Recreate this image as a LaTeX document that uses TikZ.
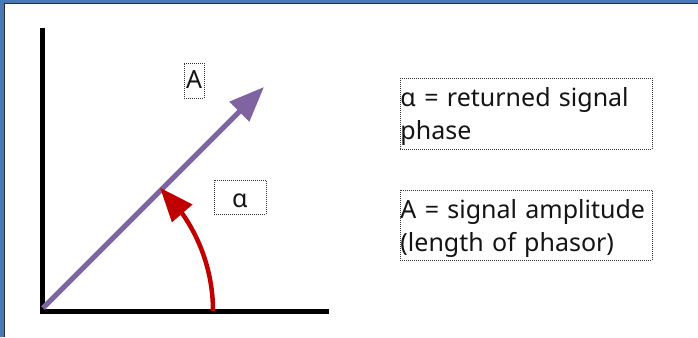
\documentclass[tikz,border=0pt]{standalone}
\usepackage{fontspec}
\setmainfont{Noto Sans}
\usetikzlibrary{arrows.meta,bending}
\definecolor{frameblue}{RGB}{74,122,182}
\definecolor{framedark}{RGB}{40,44,52}
\definecolor{phasor}{RGB}{128,100,162}
\definecolor{anglered}{RGB}{192,0,0}
\definecolor{txt}{RGB}{20,20,20}
\definecolor{dotcol}{RGB}{55,55,55}
\tikzset{
  axis/.style={line width=5pt, black},
  phasorline/.style={line width=5pt, phasor, -{Triangle[length=35pt,width=27pt]}},
  anglearc/.style={line width=4.5pt, anglered, -{Triangle[length=34pt,width=26pt]}},
  dotbox/.style={draw=dotcol, line width=0.9pt, dash pattern=on 1pt off 1pt},
  bigfont/.style={font=\fontsize{25}{33.5}\selectfont, text=txt},
  legend/.style={dotbox, bigfont, anchor=north west, inner sep=0pt, text width=252pt, align=left},
  smalllabel/.style={dotbox, font=\fontsize{25}{30}\selectfont, text=txt, anchor=base, inner xsep=2pt, inner ysep=2pt}
}
\begin{document}
\begin{tikzpicture}[x=1pt,y=-1pt]
\useasboundingbox (0,0) rectangle (698,337);
\fill[white] (0,0) rectangle (698,337);
% window frame
\fill[frameblue] (0,0) rectangle (698,3.2);
\fill[frameblue] (0,0) rectangle (4,337);
\fill[framedark] (4,3.2) rectangle (698,4.4);
\fill[framedark] (4,3.2) rectangle (5.2,337);
% axes
\coordinate (O) at (42.5,311.5);
\coordinate (ytop) at (42.5,28);
\coordinate (ybot) at (42.5,314);
\coordinate (xleft) at (40,311.5);
\coordinate (xright) at (329,311.5);
\draw[axis] (ybot) -- (ytop);
\draw[axis] (xleft) -- (xright);
% phasor
\coordinate (pstart) at (43,308);
\coordinate (ptip) at (264,87);
\draw[phasorline] (pstart) -- (ptip);
% angle arc
\coordinate (arcstart) at (213,311);
\draw[anglearc] (arcstart) arc[start angle=0, end angle=-46.5, radius=170];
% labels
\node[smalllabel, text height=23pt, text depth=8pt] (labA) at (194,88) {A};
\node[smalllabel, text height=25pt, text depth=5pt, minimum width=52pt] (labalpha) at (240,207) {α};
% legend boxes
\node[legend] (leg1) at (400,78) {\rule{0pt}{28pt}α = returned signal\\phase\rule[-9pt]{0pt}{9pt}};
\node[legend] (leg2) at (400,190) {\rule{0pt}{28pt}A = signal amplitude\\(length of phasor)\rule[-8.5pt]{0pt}{8.5pt}};
\end{tikzpicture}
\end{document}
